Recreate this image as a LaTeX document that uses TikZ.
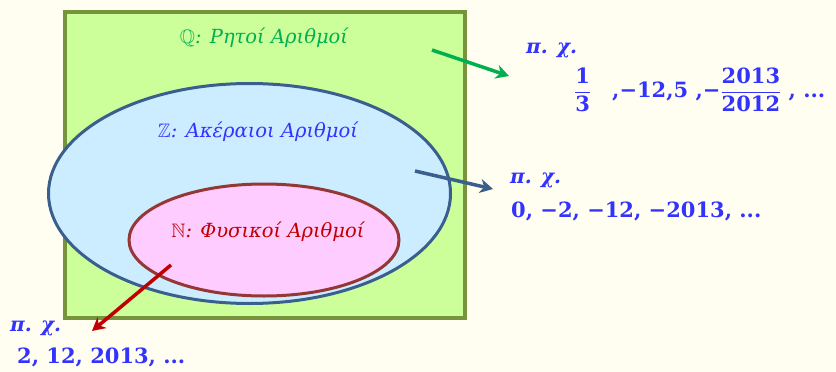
\documentclass[tikz,border=0pt]{standalone}
\usepackage{amsmath,amssymb}
\usepackage{fontspec}
\setmainfont{DejaVu Serif}
\usetikzlibrary{arrows.meta,shapes.geometric}
\definecolor{haikei}{HTML}{FFFEF0}
\definecolor{nuriQ}{HTML}{CCFF99}
\definecolor{wakuQ}{HTML}{77933C}
\definecolor{nuriZ}{HTML}{CCECFF}
\definecolor{wakuZ}{HTML}{3A5F8E}
\definecolor{nuriN}{HTML}{FFCCFF}
\definecolor{wakuN}{HTML}{953735}
\definecolor{midori}{HTML}{00B050}
\definecolor{aka}{HTML}{C00000}
\definecolor{moji}{HTML}{3333FF}
\tikzset{
  yajirushi/.style={line width=3.5pt,-{Stealth[length=13pt,width=14pt,inset=4pt]}},
  namae/.style={font=\fontsize{19.5}{23}\selectfont\itshape},
  rei/.style={text=moji,font=\fontsize{21}{24}\selectfont\bfseries,inner sep=0pt},
  reimidashi/.style={text=moji,font=\fontsize{20}{24}\selectfont\bfseries\itshape,inner sep=0pt}
}
\begin{document}
\begin{tikzpicture}[x=1pt,y=-1pt]
\fill[haikei](0,0)rectangle(836,372); %背景
\useasboundingbox(0,0)rectangle(836,372);

%集合
\node[draw=wakuQ,fill=nuriQ,line width=4pt,minimum width=400pt,minimum height=306pt,inner sep=0pt](Q)at(265,165){}; %有理数
\node[ellipse,draw=wakuZ,fill=nuriZ,line width=3pt,minimum width=402pt,minimum height=220pt,inner sep=0pt](Z)at(249.5,193.5){}; %整数
\node[ellipse,draw=wakuN,fill=nuriN,line width=3pt,minimum width=270pt,minimum height=112pt,inner sep=0pt](N)at(264,240){}; %自然数

%名前
\node[namae,text=midori](Qmei)at(264,38){$\mathbb{Q}$: Ρητοί Αριθμοί};
\node[namae,text=moji](Zmei)at(258,132){$\mathbb{Z}$: Ακέραιοι Αριθμοί};
\node[namae,text=aka](Nmei)at(268,232){$\mathbb{N}$: Φυσικοί Αριθμοί};

%例
\node[reimidashi,anchor=west](Qrei)at(526,50){π. χ.};
\node[rei,anchor=west](Qkazu)at(574,90){$\dfrac{\text{1}}{\text{3}}$\quad ,−12,5\ ,−$\dfrac{\text{2013}}{\text{2012}}$\ , ...};
\node[reimidashi,anchor=west](Zrei)at(510,180){π. χ.};
\node[rei,anchor=west](Zkazu)at(511,211){0, −2, −12, −2013, ...};
\node[reimidashi,anchor=west](Nrei)at(10,328){π. χ.};
\node[rei,anchor=west](Nkazu)at(17,357){2, 12, 2013, ...};

%矢印
\coordinate(Qmoto)at(432,50);
\coordinate(Qsaki)at(509,76);
\coordinate(Zmoto)at(415,171);
\coordinate(Zsaki)at(493,189);
\coordinate(Nmoto)at(171,265);
\coordinate(Nsaki)at(92,331);
\draw[yajirushi,midori](Qmoto)--(Qsaki);
\draw[yajirushi,wakuZ](Zmoto)--(Zsaki);
\draw[yajirushi,aka](Nmoto)--(Nsaki);
\end{tikzpicture}
\end{document}
